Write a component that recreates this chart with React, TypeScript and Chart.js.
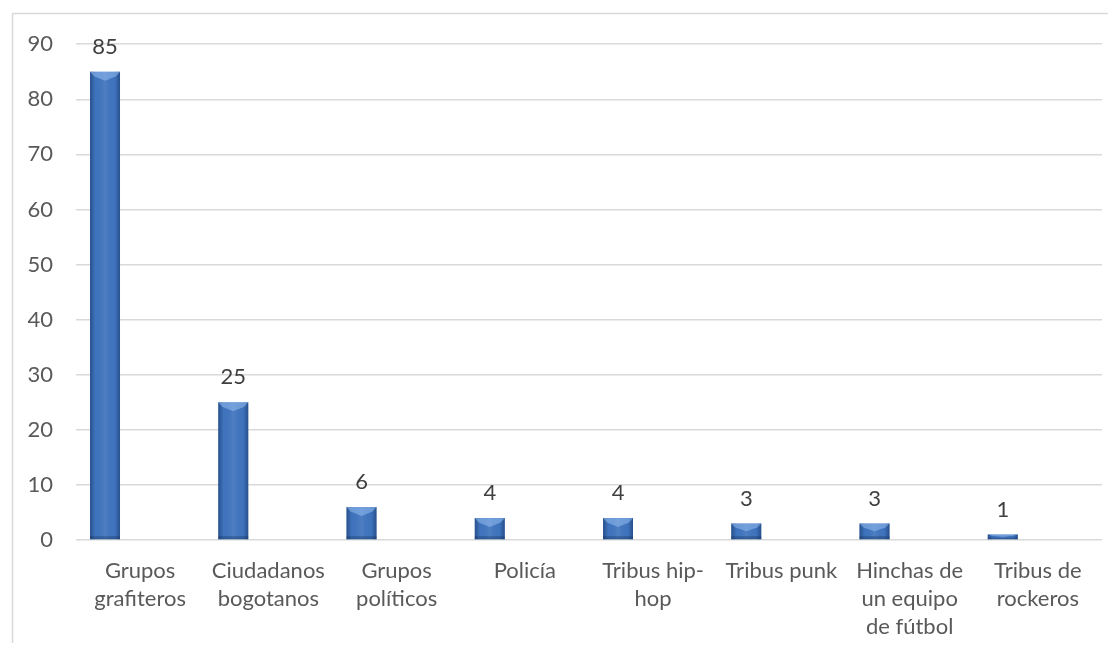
import React, { useEffect, useRef } from "react";
import { Chart, registerables } from "chart.js";

Chart.register(...registerables);

const categories: (string | string[])[] = [
  ["Grupos", "grafiteros"],
  ["Ciudadanos", "bogotanos"],
  ["Grupos", "políticos"],
  "Policía",
  ["Tribus hip-", "hop"],
  "Tribus punk",
  ["Hinchas de", "un equipo", "de fútbol"],
  ["Tribus de", "rockeros"],
];
const values = [85, 25, 6, 4, 4, 3, 3, 1];
const spacerSeries = [null, null, null, null, null, null, null, null];
const yMin = 0;
const yMax = 90;
const yStep = 10;

const FONT = "Lato, 'Open Sans', sans-serif";

const bevelPlugin = {
  id: "bevel",
  afterDatasetsDraw(chart: any) {
    const ctx = chart.ctx;
    const meta = chart.getDatasetMeta(0);
    meta.data.forEach((bar: any, i: number) => {
      const { x, y, base, width } = bar.getProps(["x", "y", "base", "width"], true);
      const x0 = x - width / 2;
      const x1 = x + width / 2;
      const h = base - y;
      if (h <= 0) return;
      ctx.save();
      const g = ctx.createLinearGradient(x0, 0, x1, 0);
      g.addColorStop(0, "rgba(20,50,100,0.55)");
      g.addColorStop(0.18, "rgba(20,50,100,0.0)");
      g.addColorStop(0.5, "rgba(255,255,255,0.08)");
      g.addColorStop(0.82, "rgba(20,50,100,0.0)");
      g.addColorStop(1, "rgba(20,50,100,0.55)");
      ctx.fillStyle = g;
      ctx.fillRect(x0, y, width, h);
      const bev = Math.min(9, h / 2);
      ctx.beginPath();
      ctx.moveTo(x0, y);
      ctx.lineTo(x1, y);
      ctx.lineTo(x1 - 4, y + bev * 0.5);
      ctx.lineTo(x, y + bev);
      ctx.lineTo(x0 + 4, y + bev * 0.5);
      ctx.closePath();
      ctx.fillStyle = "rgba(150,190,240,0.55)";
      ctx.fill();
      const bb = Math.min(3, h / 3);
      ctx.fillStyle = "rgba(20,45,90,0.35)";
      ctx.fillRect(x0, base - bb, width, bb);
      ctx.restore();

      ctx.save();
      ctx.fillStyle = "#404040";
      ctx.font = `22px ${FONT}`;
      ctx.textAlign = "center";
      ctx.textBaseline = "middle";
      ctx.fillText(String(values[i]), x, y - 25);
      ctx.restore();
    });
  },
};

const borderPlugin = {
  id: "outerBorder",
  beforeDraw(chart: any) {
    const ctx = chart.ctx;
    ctx.save();
    ctx.fillStyle = "#ffffff";
    ctx.fillRect(0, 0, chart.width, chart.height);
    ctx.strokeStyle = "#d9d9d9";
    ctx.lineWidth = 1.5;
    ctx.strokeRect(4.5, 5.5, chart.width + 50, chart.height + 50);
    ctx.restore();
  },
};

export default function App() {
  const ref = useRef<HTMLCanvasElement | null>(null);
  useEffect(() => {
    if (!ref.current) return;
    const chart = new Chart(ref.current, {
      type: "bar",
      data: {
        labels: categories,
        datasets: [
          {
            data: values,
            backgroundColor: "#3f74bd",
            borderWidth: 0,
            categoryPercentage: 1.095,
            barPercentage: 0.427,
          },
          {
            data: spacerSeries,
            backgroundColor: "#3f74bd",
            borderWidth: 0,
            categoryPercentage: 1.095,
            barPercentage: 0.427,
          },
        ],
      },
      options: {
        responsive: false,
        animation: false,
        layout: { padding: { left: 0, right: 6, top: 34, bottom: 0 } },
        plugins: {
          legend: { display: false },
          tooltip: { enabled: false },
          title: { display: false },
        },
        scales: {
          x: {
            grid: { display: false, drawTicks: false },
            border: { display: false },
            ticks: {
              color: "#595959",
              font: { family: FONT, size: 22, lineHeight: 28 / 22 },
              padding: 17,
              maxRotation: 0,
              autoSkip: false,
            },
            afterFit(scale: any) {
              scale.height = 103;
            },
          },
          y: {
            min: yMin,
            max: yMax,
            grid: { color: "#d9d9d9", lineWidth: 1.5, drawTicks: false },
            border: { display: false },
            ticks: {
              stepSize: yStep,
              color: "#595959",
              font: { family: FONT, size: 22 },
              padding: 23,
            },
            afterFit(scale: any) {
              scale.width = 68;
            },
          },
        },
      },
      plugins: [borderPlugin, bevelPlugin],
    });
    return () => chart.destroy();
  }, []);
  return (
    <canvas
      ref={ref}
      width={1100}
      height={635}
      style={{ display: "block", width: 1100, height: 635 }}
    />
  );
}
